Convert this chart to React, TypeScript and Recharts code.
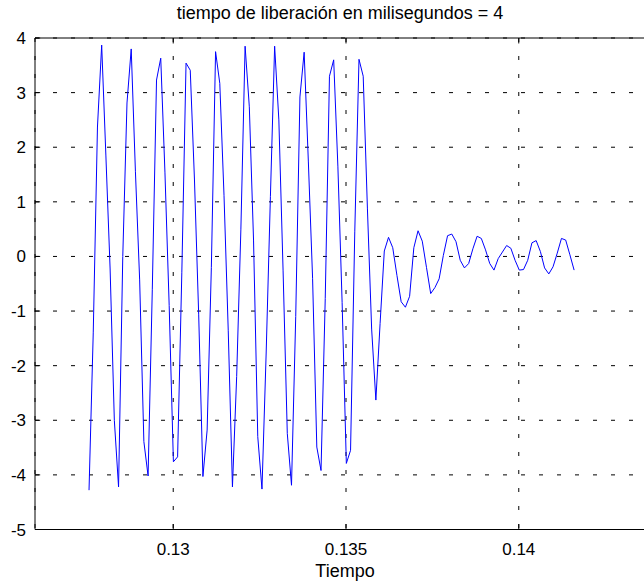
import { LineChart, Line, XAxis, YAxis, CartesianGrid, ReferenceLine } from 'recharts';

// signal sampled at 8192 Hz, first sample at 1045/8192 s
const SAMPLE_RATE = 8192;
const FIRST_SAMPLE = 1045;

const signal = [
  -4.28, -1.4, 2.37, 3.87, 1.84, -0.23, -3.0, -4.22, 0.0, 2.81,
  3.8, 1.55, -0.43, -3.39, -4.02, -0.6, 3.23, 3.63, 1.53, -0.9,
  -3.76, -3.67, -0.3, 3.54, 3.41, 1.4, -1.07, -4.03, -3.18, -0.2,
  3.75, 3.17, 1.12, -1.35, -4.22, -2.2, 0.5, 3.85, 2.74, 0.3,
  -3.3, -4.26, -1.75, 1.1, 3.85, 2.5, -0.25, -3.24, -4.19, -1.1,
  2.92, 3.74, 1.73, -0.4, -3.49, -3.92, -0.77, 3.3, 3.6, 1.64,
  -0.84, -3.79, -3.55, 0.45, 3.61, 3.3, 0.87, -1.33, -2.63, -1.23,
  0.1, 0.35, 0.16, -0.35, -0.83, -0.93, -0.73, 0.16, 0.47, 0.28,
  -0.2, -0.68, -0.57, -0.41, 0.02, 0.38, 0.41, 0.27, -0.07, -0.21,
  -0.13, 0.14, 0.37, 0.33, 0.12, -0.13, -0.25, -0.04, 0.08, 0.2,
  0.15, -0.07, -0.25, -0.24, -0.07, 0.25, 0.29, 0.09, -0.21, -0.32,
  -0.19, 0.06, 0.33, 0.3, 0.03, -0.25,
];

const xTicks = [0.13, 0.135, 0.14];
const yTicks = [-5, -4, -3, -2, -1, 0, 1, 2, 3, 4];
const xDomain = [0.126, 0.144];
const yDomain = [-5, 4];

const data = signal.map((v, i) => ({ t: (FIRST_SAMPLE + i) / SAMPLE_RATE, v }));

const font = "'Liberation Sans', Arial, sans-serif";
const tickStyle = { fill: '#000', fontSize: 17, fontFamily: font };

export default function App() {
  return (
    <div
      style={{
        position: 'absolute',
        left: 0,
        top: 0,
        width: 644,
        height: 582,
        overflow: 'hidden',
        background: '#fff',
        fontFamily: font,
      }}
    >
      <LineChart width={700} height={582} data={data} margin={{ top: 38, right: 43, bottom: 0, left: 0 }}>
        <CartesianGrid stroke="#000" strokeDasharray="4 14" />
        <XAxis
          dataKey="t"
          type="number"
          domain={xDomain}
          ticks={xTicks}
          interval={0}
          allowDataOverflow
          height={52.5}
          stroke="#000"
          tickLine={false}
          tickSize={0}
          tickMargin={13}
          tick={tickStyle}
        />
        <YAxis
          type="number"
          domain={yDomain}
          ticks={yTicks}
          interval={0}
          allowDataOverflow
          width={35}
          stroke="#000"
          tickLine={false}
          tickSize={0}
          tickMargin={9}
          tick={tickStyle}
        />
        <ReferenceLine y={4} stroke="#000" />
        {xTicks.map((t) => (
          <ReferenceLine key={'b' + t} segment={[{ x: t, y: -5 }, { x: t, y: -4.9 }]} stroke="#000" />
        ))}
        {xTicks.map((t) => (
          <ReferenceLine key={'t' + t} segment={[{ x: t, y: 4 }, { x: t, y: 3.9 }]} stroke="#000" />
        ))}
        {yTicks.map((v) => (
          <ReferenceLine key={'l' + v} segment={[{ x: 0.126, y: v }, { x: 0.12615, y: v }]} stroke="#000" />
        ))}
        <Line type="linear" dataKey="v" stroke="#0000ff" strokeWidth={1} dot={false} isAnimationActive={false} />
      </LineChart>
      <div style={{ position: 'absolute', left: 0, width: 680, top: 3, textAlign: 'center', fontSize: 18 }}>
        tiempo de liberación en milisegundos = 4
      </div>
      <div style={{ position: 'absolute', left: 0, width: 690, top: 561, textAlign: 'center', fontSize: 18 }}>
        Tiempo
      </div>
    </div>
  );
}
